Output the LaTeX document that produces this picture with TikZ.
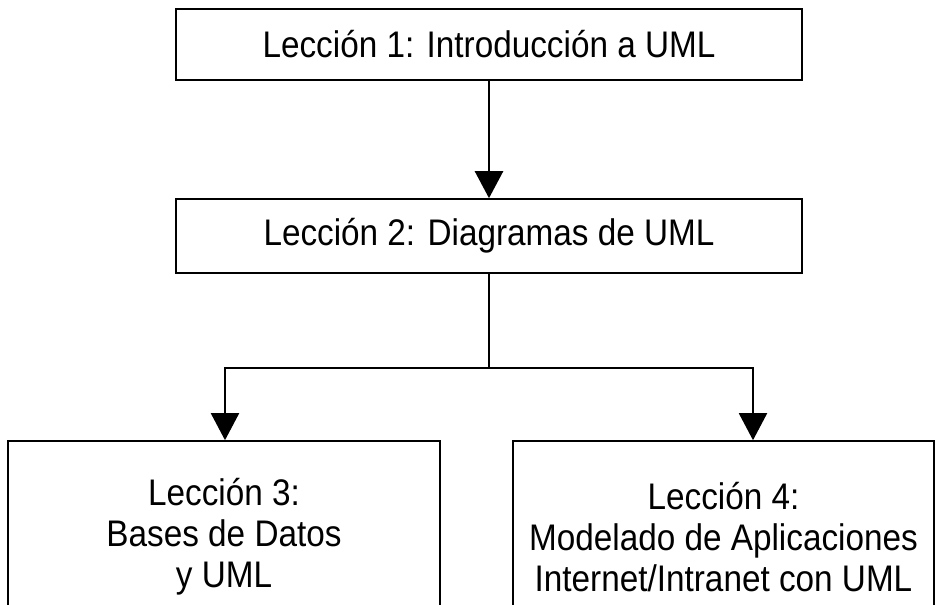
\documentclass[tikz,border=0pt]{standalone}
\usepackage{fontspec}
\setmainfont{Liberation Sans}
\newfontfamily\lfont[FakeStretch=0.9]{Liberation Sans}
\usetikzlibrary{positioning, arrows.meta}

\begin{document}
\begin{tikzpicture}[x=1pt, y=1pt]

\clip (0,0) rectangle (938,605);

\tikzstyle{lbox}=[draw=black, line width=1.6pt, shape=rectangle, inner sep=0pt,
align=center, font=\lfont\fontsize{37}{41}\selectfont];
\tikzstyle{arr}=[line width=2pt, -{Triangle[length=27pt, width=28pt]}];

\node[lbox, minimum width=626pt, minimum height=71pt] (l1) at (489,560.5) {Lección 1: Introducción a UML};
\node[lbox, minimum width=626pt, minimum height=74pt] (l2) at (489,369) {Lección 2: Diagramas de UML};
\node[lbox, minimum width=432pt, minimum height=192pt] (l3) at (224,68) {Lección 3:\\Bases de Datos\\y UML};
\node[lbox, minimum width=421pt, minimum height=192pt] (l4) at (723.5,68) {Lección 4:\\Modelado de Aplicaciones\\Internet/Intranet con UML};

\coordinate (bl) at (225,237);
\coordinate (br) at (753,237);

% lines
\draw [arr, line width=2.6pt] (l1) -- (l2);
\draw [arr] (l2.south) |- (bl) -- (bl |- l3.north);
\draw [arr] (l2.south) |- (br) -- (br |- l4.north);

\end{tikzpicture}
\end{document}
